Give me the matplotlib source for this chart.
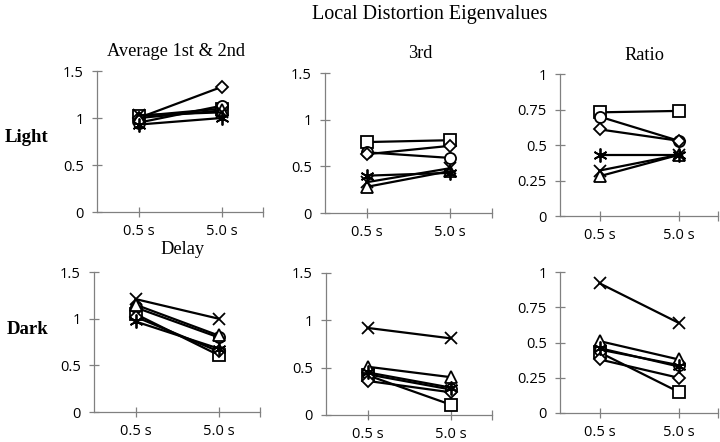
import matplotlib.pyplot as plt

delays = ["0.5 s", "5.0 s"]
series = ["square", "circle", "diamond", "triangle", "cross", "asterisk"]

# one [0.5 s, 5.0 s] pair per series, in the order of `series`
light_avg = [[1.02, 1.10], [0.95, 1.13], [1.00, 1.33], [1.00, 1.08], [1.03, 1.06], [0.93, 1.00]]
light_3rd = [[0.76, 0.78], [0.65, 0.59], [0.63, 0.72], [0.28, 0.45], [0.33, 0.48], [0.40, 0.43]]
light_ratio = [[0.73, 0.74], [0.70, 0.53], [0.61, 0.53], [0.28, 0.43], [0.32, 0.43], [0.43, 0.43]]
dark_avg = [[1.05, 0.61], [1.12, 0.80], [1.02, 0.65], [1.15, 0.82], [1.21, 1.00], [0.97, 0.68]]
dark_3rd = [[0.42, 0.11], [0.43, 0.27], [0.36, 0.24], [0.51, 0.40], [0.92, 0.81], [0.45, 0.29]]
dark_ratio = [[0.43, 0.15], [0.45, 0.34], [0.38, 0.25], [0.51, 0.38], [0.92, 0.64], [0.46, 0.33]]

markers = {
    "square": "s",
    "circle": "o",
    "diamond": "D",
    "triangle": "^",
    "cross": "x",
    "asterisk": (6, 2, 0),
}
msizes = {"square": 8, "circle": 8, "diamond": 6.5, "triangle": 8, "cross": 9, "asterisk": 10}

W, H = 720, 442
fig = plt.figure(figsize=(W / 100, H / 100), dpi=100)

serif = "Liberation Serif"
sans = "Open Sans"


def add_axes(left, right, top, bottom):
    return fig.add_axes([left / W, 1 - bottom / H, (right - left) / W, (bottom - top) / H])


panels = [
    (light_avg, (97, 263, 71, 212), 1.5, [0, 0.5, 1, 1.5], ["0", "0.5", "1", "1.5"]),
    (light_3rd, (325, 492, 73, 213), 1.5, [0, 0.5, 1, 1.5], ["0", "0.5", "1", "1.5"]),
    (light_ratio, (560, 718, 74, 216), 1.0, [0, 0.25, 0.5, 0.75, 1], ["0", "0.25", "0.5", "0.75", "1"]),
    (dark_avg, (94, 260, 272, 412), 1.5, [0, 0.5, 1, 1.5], ["0", "0.5", "1", "1.5"]),
    (dark_3rd, (326, 492, 273, 415), 1.5, [0, 0.5, 1, 1.5], ["0", "0.5", "1", "1.5"]),
    (dark_ratio, (560, 718, 272, 413), 1.0, [0, 0.25, 0.5, 0.75, 1], ["0", "0.25", "0.5", "0.75", "1"]),
]

xpos = [1, 2]
for data, box, ymax, yticks, ylabels in panels:
    ax = add_axes(*box)
    for name, vals in zip(series, data):
        m = markers[name]
        ax.plot(xpos, vals, color="black", lw=1.6, marker=m, ms=msizes[name],
                mfc="white", mec="black", mew=1.3, clip_on=False, zorder=3)
    ax.set_xlim(0.5, 2.5)
    ax.set_ylim(0, ymax)
    ax.set_xticks([1, 2, 2.5])
    ax.set_xticklabels(delays + [""], fontfamily=sans, fontsize=10.5)
    ax.set_yticks(yticks)
    ax.set_yticklabels(ylabels, fontfamily=sans, fontsize=10.5)
    for s in ["top", "right"]:
        ax.spines[s].set_visible(False)
    for s in ["left", "bottom"]:
        ax.spines[s].set_color("#808080")
        ax.spines[s].set_linewidth(0.9)
    ax.tick_params(direction="inout", length=7, width=0.9, color="#808080", pad=6)
    ax.tick_params(axis="x", pad=5)
    ax.patch.set_alpha(0)

fig.text(430 / W, 1 - 14 / H, "Local Distortion Eigenvalues", ha="center", va="center",
         fontfamily=serif, fontsize=14.5)
fig.text(176 / W, 1 - 52 / H, "Average 1st & 2nd", ha="center", va="center", fontfamily=serif, fontsize=13.2)
fig.text(420 / W, 1 - 54 / H, "3rd", ha="center", va="center", fontfamily=serif, fontsize=13.2)
fig.text(644 / W, 1 - 56 / H, "Ratio", ha="center", va="center", fontfamily=serif, fontsize=13.2)
fig.text(182 / W, 1 - 249 / H, "Delay", ha="center", va="center", fontfamily=serif, fontsize=13.2)
fig.text(5 / W, 1 - 137 / H, "Light", ha="left", va="center", fontfamily=serif, fontsize=13.5,
         fontweight="bold")
fig.text(7 / W, 1 - 330 / H, "Dark", ha="left", va="center", fontfamily=serif, fontsize=13.5,
         fontweight="bold")

fig.savefig("out.png", dpi=100)
